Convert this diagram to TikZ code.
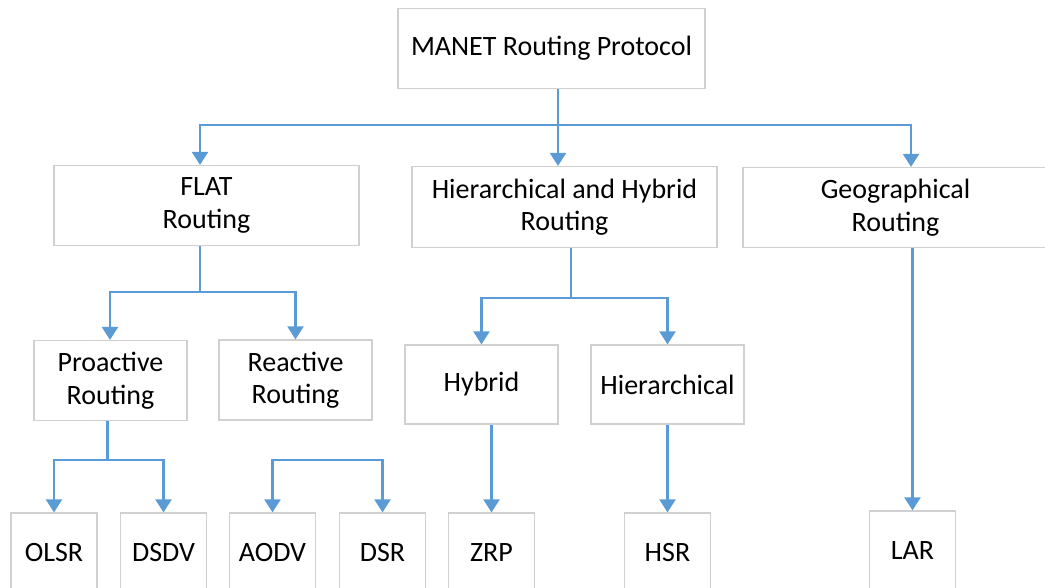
\documentclass[tikz,border=0pt]{standalone}
\usepackage{fontspec}
\setmainfont{Carlito}
\usetikzlibrary{arrows.meta}
\definecolor{linkblue}{HTML}{5B9BD5}
\definecolor{boxgray}{RGB}{208,208,208}
\tikzset{
  box/.style={draw=boxgray, line width=1.2pt, fill=white, align=center,
    inner sep=0pt, font=\fontsize{28}{32.5}\selectfont},
  wide/.style={box, minimum width=305pt, minimum height=80pt},
  mid/.style={box, minimum width=153pt, minimum height=79pt},
  leaf/.style={box, minimum width=86pt, minimum height=80pt},
  link/.style={draw=linkblue, line width=2.2pt},
  arr/.style={link, -{Triangle[width=16pt,length=13pt]}},
}
\begin{document}
\begin{tikzpicture}[x=1pt,y=-1pt]
\useasboundingbox (0,0) rectangle (1045,587);
\clip (0,0) rectangle (1045,587);

% root
\node[box, minimum width=307pt, minimum height=80pt] (root) at (551.5,48.5) {MANET Routing Protocol};

% second level
\node[wide] (flat) at (206.5,205.5) {FLAT\\Routing};
\node[wide, minimum height=81pt] (hh) at (564.5,207) {Hierarchical and Hybrid\\Routing};
\node[wide] (geo) at (895.5,207.5) {Geographical\\Routing};

% third level
\node[mid, minimum height=80pt] (pro) at (110.5,380.5) {Proactive\\Routing};
\node[mid, minimum height=80pt] (rea) at (295.5,380) {Reactive\\Routing};
\node[mid] (hyb) at (481.5,384.5) {Hybrid};
\node[mid] (hie) at (667.5,384.5) {Hierarchical};

% protocols
\node[leaf] (olsr) at (54,553) {OLSR};
\node[leaf] (dsdv) at (163.5,553) {DSDV};
\node[leaf] (aodv) at (272.5,553) {AODV};
\node[leaf] (dsr) at (382.5,553) {DSR};
\node[leaf] (zrp) at (491.5,553) {ZRP};
\node[leaf] (hsr) at (667.5,553) {HSR};
\node[leaf] (lar) at (912.5,551) {LAR};

% junction points of the branching connectors
\coordinate (j0) at (558,125);
\coordinate (j1) at (200,292);
\coordinate (j2) at (571,298);
\coordinate (j3) at (107.5,460);
\coordinate (j4) at (327.5,460);

% root to second level
\draw[link] (j0 |- root.south) -- (j0);
\draw[arr] (j0) -| ([xshift=-6.5pt]flat.north);
\draw[arr] (j0) -- (j0 |- hh.north);
\draw[arr] (j0) -| ([xshift=15.5pt]geo.north);

% flat routing
\draw[link] (j1 |- flat.south) -- (j1);
\draw[arr] (j1) -| ([xshift=-0.5pt]pro.north);
\draw[arr] (j1) -| (rea.north);

% proactive and reactive protocols
\draw[link] (j3 |- pro.south) -- (j3);
\draw[arr] (j3) -| (olsr.north);
\draw[arr] (j3) -| (dsdv.north);
\draw[arr] (j4) -| (aodv.north);
\draw[arr] (j4) -| (dsr.north);

% hierarchical and hybrid routing
\draw[link] (j2 |- hh.south) -- (j2);
\draw[arr] (j2) -| (hyb.north);
\draw[arr] (j2) -| (hie.north);
\draw[arr] (zrp.north |- hyb.south) -- (zrp.north);
\draw[arr] (hie.south) -- (hsr.north);

% geographical routing
\draw[arr] (lar.north |- geo.south) -- (lar.north);
\end{tikzpicture}
\end{document}
